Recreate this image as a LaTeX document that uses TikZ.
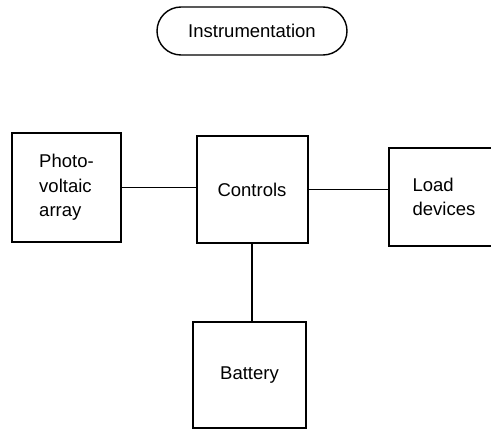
\documentclass[tikz,border=0pt]{standalone}
\usepackage{fontspec}
\setmainfont{Liberation Sans}
\usetikzlibrary{positioning}

\begin{document}
\begin{tikzpicture}[x=1pt, y=1pt,
    base/.style={draw=black, line width=2pt, align=left, inner sep=0pt,
                 font=\fontsize{18.5}{24.5}\selectfont},
    unit/.style={base, rectangle},
    pill/.style={base, line width=1.4pt, rounded corners=24pt},
    line/.style={line width=1.5pt, draw=black}]

    \useasboundingbox (0,0) rectangle (491,432);

    % Top label
    \node[pill, minimum width=190pt, minimum height=48pt] (instr) at (252,401) {Instrumentation};

    % Main blocks
    \node[unit, minimum width=109pt, minimum height=109pt] (pv)   at (66.5,244.5) {Photo-\\voltaic\\array};
    \node[unit, minimum width=111pt, minimum height=107pt] (ctrl) at (252,242.5) {Controls};
    \node[unit, minimum width=110pt, minimum height=98pt]  (load) at (444,235) {Load\\devices};
    \node[unit, minimum width=113pt, minimum height=106pt] (batt) at (249.5,57) {Battery};

    \draw[line] (pv.east) -- (pv.east -| ctrl.west);
    \draw[line] (ctrl.east) -- (ctrl.east -| load.west);
    \draw[line] (ctrl.south) -- (ctrl.south |- batt.north);
  \end{tikzpicture}
\end{document}
